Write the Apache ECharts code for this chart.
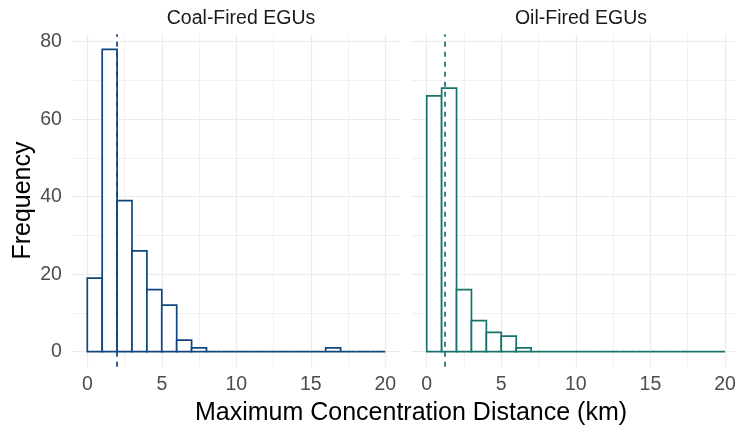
<!DOCTYPE html>
<html>
<head>
<meta charset="utf-8">
<script src="https://cdn.jsdelivr.net/npm/echarts@6/dist/echarts.min.js"></script>
<style>
  html, body { margin: 0; padding: 0; background: #fff; }
</style>
</head>
<body>
<div id="chart" style="width: 735px; height: 430px"></div>
<script>
// histogram bins (km), width 1
const binStarts = [0, 1, 2, 3, 4, 5, 6, 7, 8, 9, 10, 11, 12, 13, 14, 15, 16, 17, 18, 19];
const coalCounts = [19, 78, 39, 26, 16, 12, 3, 1, 0, 0, 0, 0, 0, 0, 0, 0, 1, 0, 0, 0];
const oilCounts = [66, 68, 16, 8, 5, 4, 1, 0, 0, 0, 0, 0, 0, 0, 0, 0, 0, 0, 0, 0];
const coalMedian = 2.01;
const oilMedian = 1.23;

const panelTitles = ["Coal-Fired EGUs", "Oil-Fired EGUs"];
const xMajorTicks = [0, 5, 10, 15, 20];
const xMinorTicks = [2.5, 7.5, 12.5, 17.5];
const yMajorTicks = [0, 20, 40, 60, 80];
const yMinorTicks = [10, 30, 50, 70];

const coalColor = "#0f467e";
const oilColor = "#16726d";
const gridColor = "#ebebeb";
const font = "Liberation Sans";

const toBins = (counts) => binStarts.map((s, i) => [s, s + 1, counts[i]]);

function xAxes(gridIndex) {
  return [
    {
      type: "value", gridIndex, min: -1, max: 21,
      axisLine: { show: false },
      axisTick: { show: false, customValues: xMajorTicks },
      axisLabel: { customValues: xMajorTicks, color: "#4d4d4d", fontSize: 19.5, fontFamily: font, margin: 8 },
      splitLine: { lineStyle: { color: gridColor, width: 1.2 } },
    },
    {
      type: "value", gridIndex, min: -1, max: 21,
      axisLine: { show: false },
      axisTick: { show: false, customValues: xMinorTicks },
      axisLabel: { show: false },
      splitLine: { lineStyle: { color: gridColor, width: 0.7 } },
    },
  ];
}

function yAxes(gridIndex) {
  return [
    {
      type: "value", gridIndex, min: -3.9, max: 81.9,
      axisLine: { show: false },
      axisTick: { show: false, customValues: yMajorTicks },
      axisLabel: { show: gridIndex === 0, customValues: yMajorTicks, color: "#4d4d4d", fontSize: 19.5, fontFamily: font, margin: 10.5 },
      splitLine: { lineStyle: { color: gridColor, width: 1.2 } },
      name: gridIndex === 0 ? "Frequency" : "",
      nameLocation: "middle", nameRotate: 90, nameGap: 37,
      nameTextStyle: { color: "#000", fontSize: 25, fontFamily: font },
    },
    {
      type: "value", gridIndex, min: -3.9, max: 81.9,
      axisLine: { show: false },
      axisTick: { show: false, customValues: yMinorTicks },
      axisLabel: { show: false },
      splitLine: { lineStyle: { color: gridColor, width: 0.7 } },
    },
  ];
}

function histSeries(data, axisIndex, color, median) {
  return {
    type: "custom",
    xAxisIndex: axisIndex, yAxisIndex: axisIndex,
    data,
    encode: { x: [0, 1], y: 2 },
    renderItem: (params, api) => {
      const p0 = api.coord([api.value(0), 0]);
      const p1 = api.coord([api.value(1), api.value(2)]);
      return {
        type: "rect",
        shape: { x: p0[0], y: p1[1], width: p1[0] - p0[0], height: p0[1] - p1[1] },
        style: { fill: "#fff", stroke: color, lineWidth: 1.7 },
      };
    },
    markLine: {
      silent: true, symbol: "none", label: { show: false },
      lineStyle: { color, width: 1.7, type: [5, 5] },
      data: [{ xAxis: median }],
    },
  };
}

const chart = echarts.init(document.getElementById("chart"));
chart.setOption({
  animation: false,
  title: [
    { text: panelTitles[0], left: 236, top: 4, textAlign: "center", textStyle: { color: "#1a1a1a", fontSize: 19.5, fontWeight: "normal", fontFamily: font } },
    { text: panelTitles[1], left: 576, top: 4, textAlign: "center", textStyle: { color: "#1a1a1a", fontSize: 19.5, fontWeight: "normal", fontFamily: font } },
    { text: "Maximum Concentration Distance (km)", left: 406, top: 396, textAlign: "center", textStyle: { color: "#000", fontSize: 25, fontWeight: "normal", fontFamily: font } },
  ],
  grid: [
    { left: 72.4, top: 34.3, width: 327.8, height: 332.5, outerBoundsMode: "none" },
    { left: 411.8, top: 34.3, width: 328.1, height: 332.5, outerBoundsMode: "none" },
  ],
  xAxis: [...xAxes(0), ...xAxes(1)],
  yAxis: [...yAxes(0), ...yAxes(1)],
  series: [
    histSeries(toBins(coalCounts), 0, coalColor, coalMedian),
    histSeries(toBins(oilCounts), 2, oilColor, oilMedian),
  ],
});

window.addEventListener("resize", () => chart.resize());
</script>
</body>
</html>
